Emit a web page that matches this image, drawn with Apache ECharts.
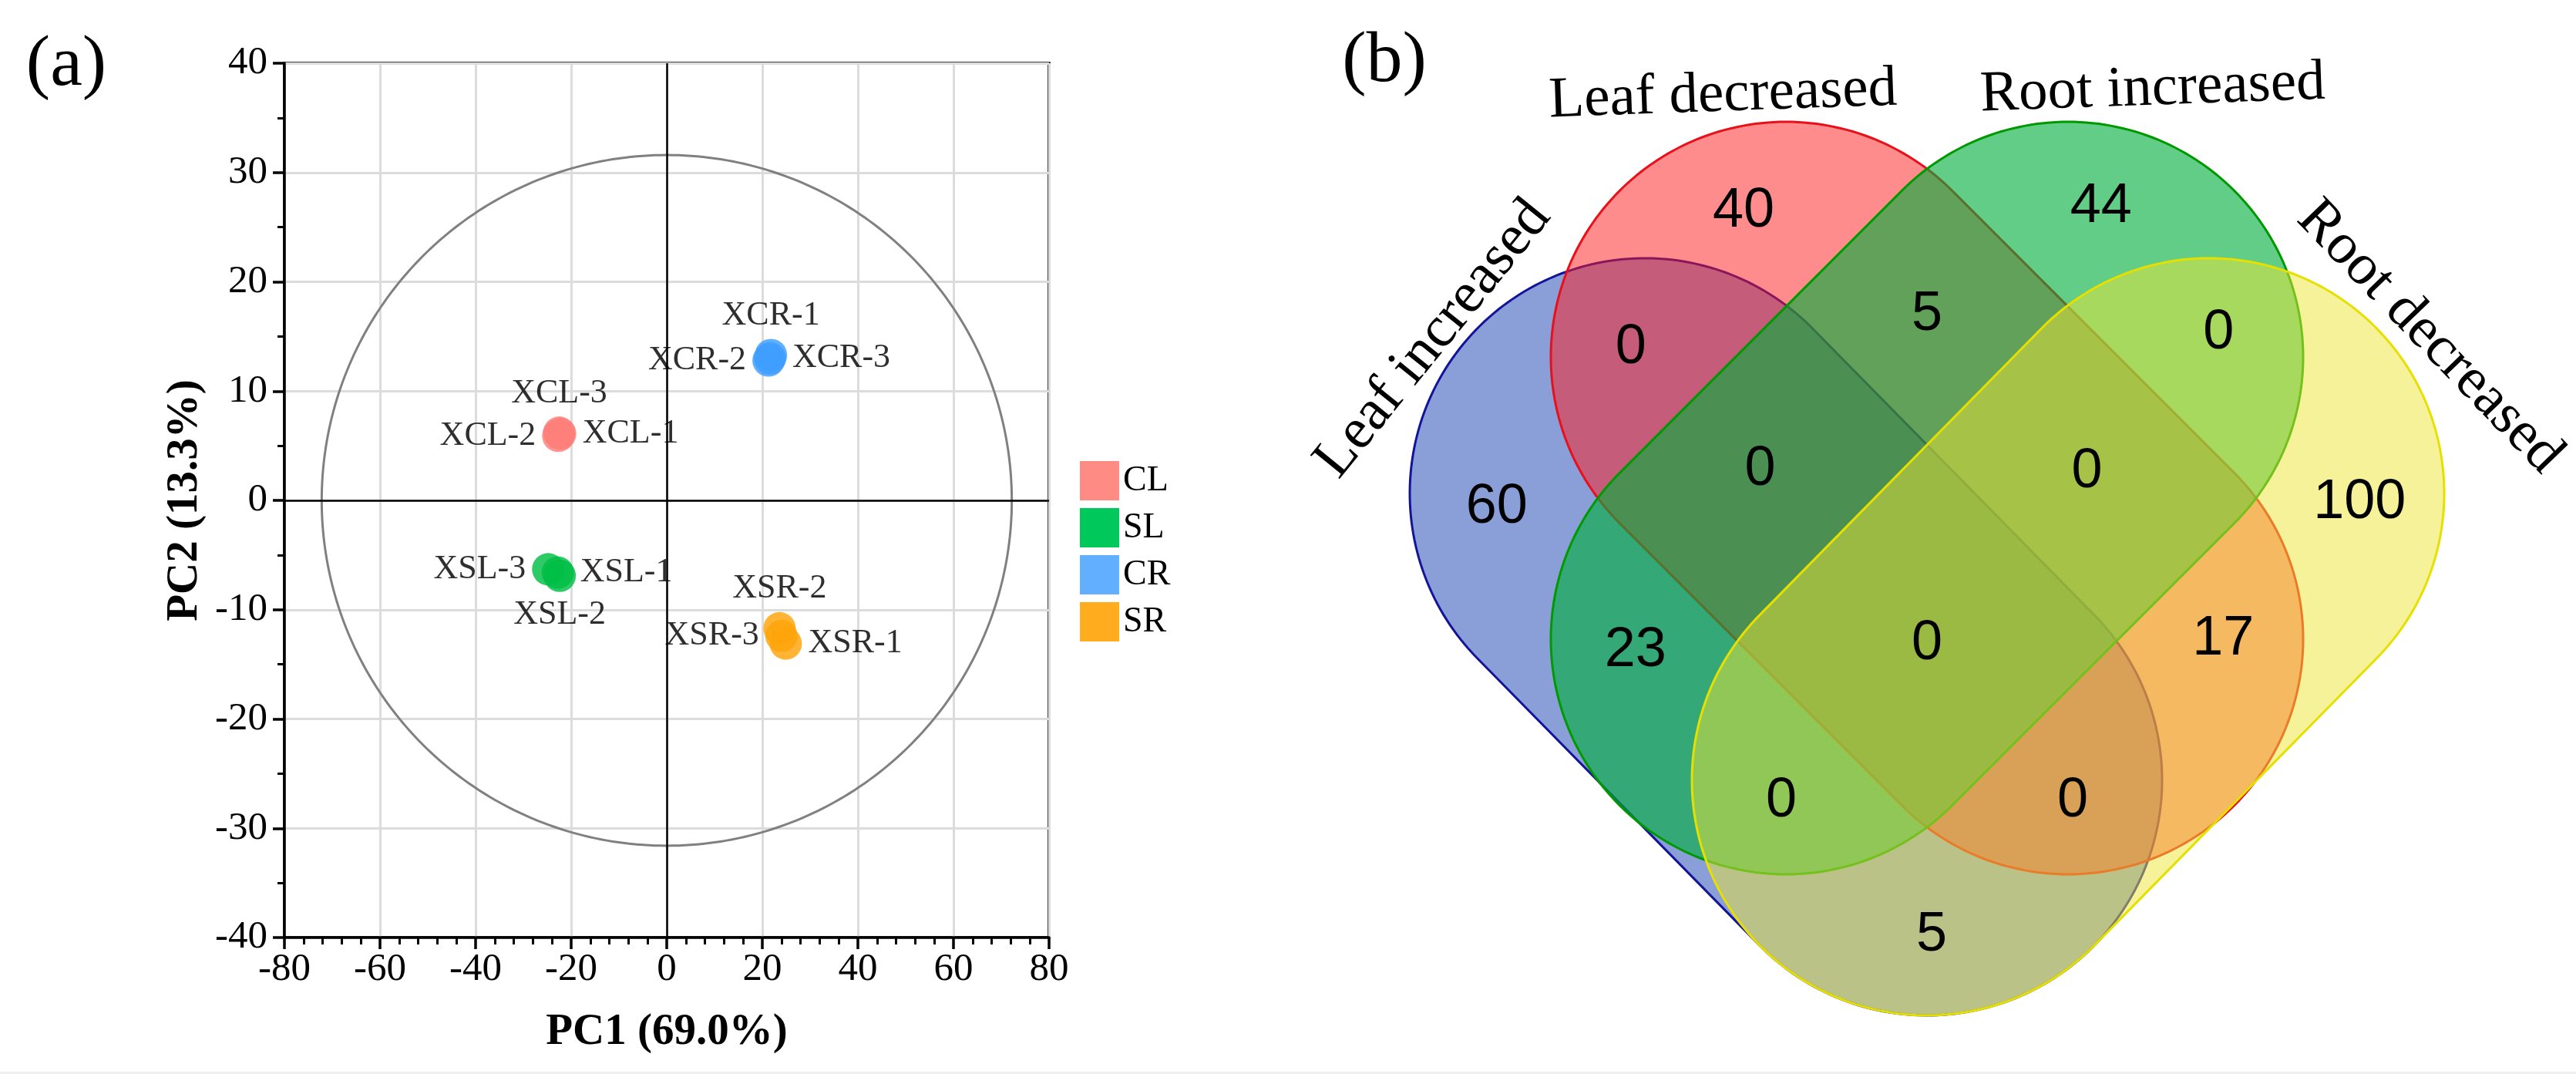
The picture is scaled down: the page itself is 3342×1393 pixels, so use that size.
<!DOCTYPE html>
<html><head><meta charset="utf-8">
<script src="https://cdn.jsdelivr.net/npm/echarts/dist/echarts.min.js"></script>
<style>html,body{margin:0;padding:0;background:#fff}#c{width:3342px;height:1393px}</style>
</head><body><div id="c"></div>
<script>
// ---------- Panel (a): PCA data ----------
const groupNames = ['CL', 'SL', 'CR', 'SR'];
const CL = [[-22.3, 6.1], [-22.7, 5.9], [-22.5, 6.2]];
const CL_names = ['XCL-1', 'XCL-2', 'XCL-3'];
const SL = [[-22.8, -6.6], [-22.4, -6.9], [-24.8, -6.3]];
const SL_names = ['XSL-1', 'XSL-2', 'XSL-3'];
const CR = [[21.8, 13.3], [21.3, 12.8], [21.6, 13.0]];
const CR_names = ['XCR-1', 'XCR-2', 'XCR-3'];
const SR = [[24.9, -13.1], [23.6, -11.7], [24.0, -12.4]];
const SR_names = ['XSR-1', 'XSR-2', 'XSR-3'];
const pc1Ticks = [-80, -60, -40, -20, 0, 20, 40, 60, 80];
const pc2Ticks = [-40, -30, -20, -10, 0, 10, 20, 30, 40];
const ellipseParams = [[0, 0, 72.2, 31.6]]; // center x, center y, semi-axis x, semi-axis y

// ---------- Panel (b): Venn data ----------
const vennSetNames = ['Leaf increased', 'Leaf decreased', 'Root increased', 'Root decreased'];
const vennCounts = [60, 40, 44, 100, 0, 5, 0, 0, 0, 23, 0, 17, 0, 0, 5];

// ---------- layout / style (not data) ----------
const CL_place = ['right', 'left', 'top'];
const SL_place = ['right', 'bottom', 'left'];
const CR_place = ['top', 'left', 'right'];
const SR_place = ['right', 'top', 'left'];
const pointColors = ['#FF7F7A', '#00BE45', '#3E9EFF', '#FFA30A'];
const legendColors = ['#FF8B85', '#00C85A', '#62AEFF', '#FFAC1E'];
const vennShapes = [[-6, 6.1, 0, 0], [-3, 9, 3, 3], [3, 9, -3, 3], [6, 6.1, 0, 0]];
const vennRadius = 5;
const vennFill = ['rgba(21,63,177,0.5)', 'rgba(255,25,25,0.5)', 'rgba(0,175,60,0.62)', 'rgba(236,230,54,0.5)'];
const vennStroke = ['#14149A', '#E8101A', '#009A00', '#E6E000'];
const vennCountPos = [[-9.15, 5.8], [-3.9, 12.1], [3.7, 12.2], [9.2, 5.9], [-6.3, 9.2], [0, 9.9], [6.2, 9.5],
  [-3.55, 6.6], [3.4, 6.55], [-6.2, 2.75], [0, 2.9], [6.3, 3.0], [-3.1, -0.45], [3.1, -0.45], [0.1, -3.3]];
const vennLabelPos = [[-10.5, 9.38, 51], [-4.34, 14.56, 2], [4.8, 14.69, 2], [10.69, 9.42, -46]];

const serif = 'Liberation Serif';
const sans = 'Liberation Sans';

function scatterSeries(idx, pts, names, places) {
  return {
    name: groupNames[idx], type: 'scatter', xAxisIndex: 0, yAxisIndex: 0,
    symbol: 'circle', symbolSize: 42, z: 5,
    itemStyle: { color: pointColors[idx], opacity: 0.82 },
    data: pts.map((p, i) => ({ value: p, name: names[i], label: { position: places[i] } })),
    label: { show: true, formatter: p => p.name, fontFamily: serif, fontSize: 44, color: '#000', distance: 8 },
    emphasis: { disabled: true }
  };
}

function ellipseItem(params, api) {
  const cx = api.value(0), cy = api.value(1), rx = api.value(2), ry = api.value(3);
  const pts = [];
  for (let k = 0; k <= 360; k++) {
    const t = k * Math.PI / 180;
    pts.push(api.coord([cx + rx * Math.cos(t), cy + ry * Math.sin(t)]));
  }
  return { type: 'polyline', shape: { points: pts }, style: { fill: 'none', stroke: '#808080', lineWidth: 3 } };
}

function capsuleItem(params, api) {
  const i = params.dataIndex;
  const A = api.coord([api.value(0), api.value(1)]);
  const B = api.coord([api.value(2), api.value(3)]);
  const r = api.size([vennRadius, 0])[0];
  const dx = B[0] - A[0], dy = B[1] - A[1], L = Math.hypot(dx, dy);
  const nx = -dy / L, ny = dx / L;
  const th = Math.atan2(ny, nx);
  const pts = []; const N = 120;
  for (let k = 0; k <= N; k++) { const a = th - Math.PI * k / N; pts.push([B[0] + r * Math.cos(a), B[1] + r * Math.sin(a)]); }
  for (let k = 0; k <= N; k++) { const a = th - Math.PI - Math.PI * k / N; pts.push([A[0] + r * Math.cos(a), A[1] + r * Math.sin(a)]); }
  return { type: 'polygon', shape: { points: pts }, style: { fill: vennFill[i], stroke: vennStroke[i], lineWidth: 3 } };
}

function countItem(params, api) {
  const p = api.coord([api.value(0), api.value(1)]);
  return { type: 'text', x: p[0], y: p[1], style: { text: String(api.value(2)), fontFamily: sans, fontSize: 72, fill: '#000', align: 'center', verticalAlign: 'middle' } };
}

function setLabelItem(params, api) {
  const p = api.coord([api.value(0), api.value(1)]);
  return { type: 'text', x: p[0], y: p[1], rotation: api.value(2) * Math.PI / 180,
    style: { text: vennSetNames[params.dataIndex], fontFamily: serif, fontSize: 75, fill: '#000', align: 'center', verticalAlign: 'middle' } };
}

const axisCommon = {
  type: 'value', gridIndex: 0,
  axisLine: { show: true, onZero: false, lineStyle: { color: '#000', width: 3.5 } },
  axisTick: { show: true, length: 15, lineStyle: { color: '#000', width: 3.5 } },
  splitLine: { show: true, lineStyle: { color: '#DCDCDC', width: 3 } },
  nameLocation: 'middle',
  nameTextStyle: { fontFamily: serif, fontSize: 57, fontWeight: 'bold', color: '#000' }
};

const option = {
  animation: false,
  backgroundColor: '#fff',
  graphic: [
    { type: 'text', x: 86, y: 85, style: { text: '(a)', fontFamily: serif, fontSize: 94, fill: '#000', align: 'center', verticalAlign: 'middle' } },
    { type: 'text', x: 1796, y: 80, style: { text: '(b)', fontFamily: serif, fontSize: 94, fill: '#000', align: 'center', verticalAlign: 'middle' } },
    { type: 'rect', shape: { x: 0, y: 1390, width: 3342, height: 3 }, style: { fill: '#EFEFF1' }, silent: true }
  ],
  legend: {
    orient: 'vertical', left: 1396, top: 593, itemWidth: 51, itemHeight: 51, itemGap: 10,
    icon: 'rect', selectedMode: false,
    textStyle: { fontFamily: serif, fontSize: 46, color: '#000' },
    data: groupNames.map((n, i) => ({ name: n, itemStyle: { color: legendColors[i], opacity: 1 } }))
  },
  grid: [
    { left: 369, top: 82, width: 992, height: 1134, show: true, borderColor: '#000', borderWidth: 3.5, backgroundColor: 'transparent' },
    { left: 1707, top: 36, width: 1586, height: 1342, show: false }
  ],
  xAxis: [
    Object.assign({}, axisCommon, {
      min: pc1Ticks[0], max: pc1Ticks[pc1Ticks.length - 1], interval: pc1Ticks[1] - pc1Ticks[0],
      minorTick: { show: true, splitNumber: 5, length: 9, lineStyle: { color: '#000', width: 3 } },
      axisLabel: { fontFamily: serif, fontSize: 51, color: '#000', margin: 16 },
      name: 'PC1 (69.0%)', nameGap: 95
    }),
    { type: 'value', gridIndex: 1, min: -13, max: 13, show: false }
  ],
  yAxis: [
    Object.assign({}, axisCommon, {
      min: pc2Ticks[0], max: pc2Ticks[pc2Ticks.length - 1], interval: pc2Ticks[1] - pc2Ticks[0],
      minorTick: { show: true, splitNumber: 2, length: 9, lineStyle: { color: '#000', width: 3 } },
      axisLabel: { fontFamily: serif, fontSize: 51, color: '#000', margin: 22 },
      name: 'PC2 (13.3%)', nameGap: 100
    }),
    { type: 'value', gridIndex: 1, min: -6, max: 16, show: false }
  ],
  series: [
    {
      type: 'custom', name: 'ellipse', xAxisIndex: 0, yAxisIndex: 0, z: 2, clip: false, silent: true,
      renderItem: ellipseItem, data: ellipseParams,
      markLine: { silent: true, symbol: ['none', 'none'], label: { show: false },
        lineStyle: { color: '#000', width: 2.5, type: 'solid' }, emphasis: { disabled: true },
        data: [{ xAxis: 0 }, { yAxis: 0 }] }
    },
    scatterSeries(0, CL, CL_names, CL_place),
    scatterSeries(1, SL, SL_names, SL_place),
    scatterSeries(2, CR, CR_names, CR_place),
    scatterSeries(3, SR, SR_names, SR_place),
    {
      type: 'custom', name: 'venn', xAxisIndex: 1, yAxisIndex: 1, z: 2, clip: false, silent: true,
      renderItem: capsuleItem, data: vennShapes
    },
    {
      type: 'custom', name: 'vennCounts', xAxisIndex: 1, yAxisIndex: 1, z: 3, clip: false, silent: true,
      renderItem: countItem, data: vennCountPos.map((p, i) => [p[0], p[1], vennCounts[i]])
    },
    {
      type: 'custom', name: 'vennSets', xAxisIndex: 1, yAxisIndex: 1, z: 3, clip: false, silent: true,
      renderItem: setLabelItem, data: vennLabelPos
    }
  ]
};

const chart = echarts.init(document.getElementById('c'), null, { renderer: 'canvas' });
chart.setOption(option);
</script>
</body></html>
